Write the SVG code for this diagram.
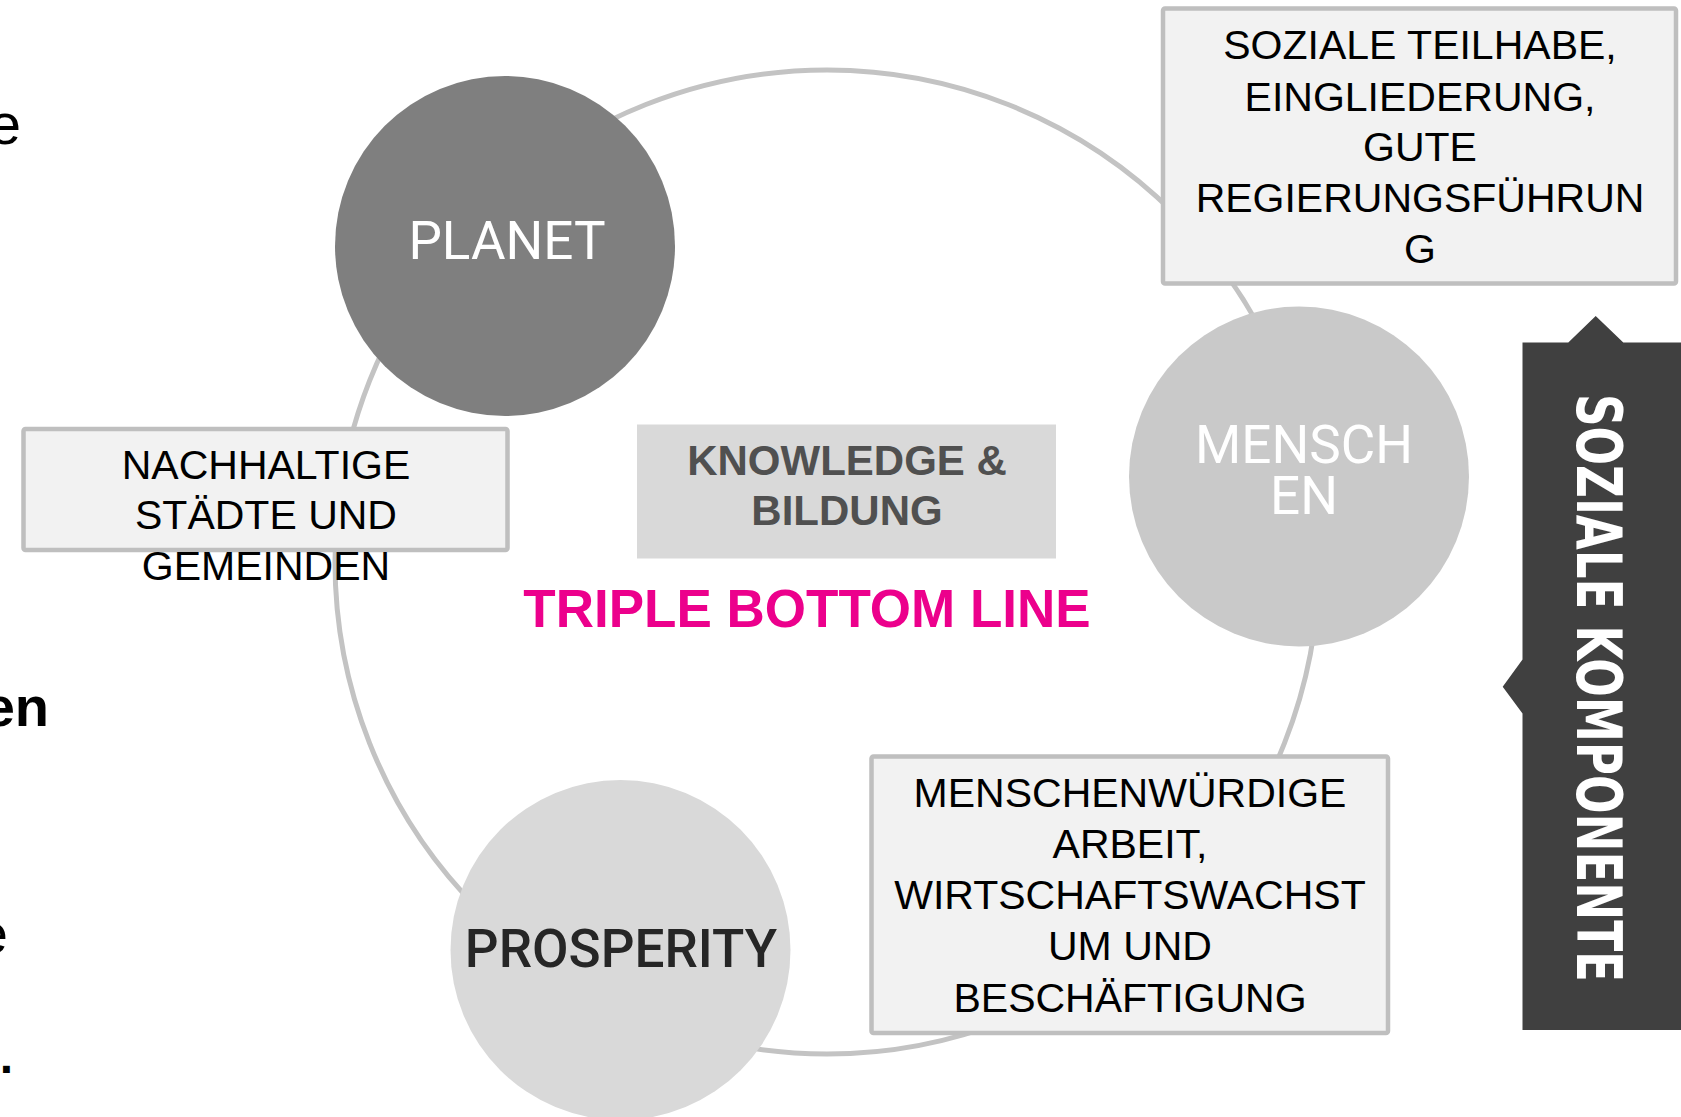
<svg xmlns="http://www.w3.org/2000/svg" width="1681" height="1117" viewBox="0 0 1681 1117">
  <style>
    .ring { fill: none; stroke: #c3c3c3; stroke-width: 5; }
    .box { fill: #f2f2f2; stroke: #bfbfbf; stroke-width: 4.5; }
    .boxtxt { font-family: "Liberation Sans", Arial, sans-serif; font-size: 41px; fill: #000000; text-anchor: middle; }
    .circtxt { font-family: Roboto, "Liberation Sans", sans-serif; font-size: 53px; text-anchor: middle; }
    .edge { font-family: "Liberation Sans", Arial, sans-serif; fill: #000000; text-anchor: end; }
  </style>
  <rect width="1681" height="1117" fill="#ffffff"/>

  <g id="edge-text">
    <text class="edge" x="21" y="144" font-size="58">e</text>
    <text class="edge" x="49" y="726" font-size="56" font-weight="bold">en</text>
    <text class="edge" x="8" y="953" font-size="56">e</text>
    <text class="edge" x="13" y="1073" font-size="48" font-weight="bold">.</text>
  </g>

  <g id="connectors">
    <circle class="ring" cx="827" cy="562" r="492"/>
  </g>

  <g id="planet">
    <circle cx="505" cy="246" r="170" fill="#7f7f7f"/>
    <text class="circtxt" x="507" y="259" fill="#ffffff">PLANET</text>
  </g>

  <g id="menschen">
    <circle cx="1299" cy="476.5" r="170" fill="#c9c9c9"/>
    <text class="circtxt" x="1304" y="462.5" fill="#ffffff">MENSCH</text>
    <text class="circtxt" x="1304" y="514" fill="#ffffff">EN</text>
  </g>

  <g id="prosperity">
    <circle cx="620.5" cy="950" r="170" fill="#d9d9d9"/>
    <text class="circtxt" x="621" y="967" fill="#262626" font-weight="500">PROSPERITY</text>
  </g>

  <g id="nachhaltige">
    <rect class="box" x="23.5" y="429" width="484" height="121" rx="2"/>
    <text class="boxtxt" x="266" y="478.5">NACHHALTIGE</text>
    <text class="boxtxt" x="266" y="529">STÄDTE UND</text>
    <text class="boxtxt" x="266" y="580">GEMEINDEN</text>
  </g>

  <g id="soziale-teilhabe">
    <rect class="box" x="1163" y="8.5" width="513" height="275" rx="2"/>
    <text class="boxtxt" x="1420" y="59">SOZIALE TEILHABE,</text>
    <text class="boxtxt" x="1420" y="110.5">EINGLIEDERUNG,</text>
    <text class="boxtxt" x="1420" y="161">GUTE</text>
    <text class="boxtxt" x="1420" y="212">REGIERUNGSFÜHRUN</text>
    <text class="boxtxt" x="1420" y="262.5">G</text>
  </g>

  <g id="menschenwuerdige">
    <rect class="box" x="871.5" y="756.5" width="516.5" height="276.5" rx="2"/>
    <text class="boxtxt" x="1130" y="807">MENSCHENWÜRDIGE</text>
    <text class="boxtxt" x="1130" y="858">ARBEIT,</text>
    <text class="boxtxt" x="1130" y="909">WIRTSCHAFTSWACHST</text>
    <text class="boxtxt" x="1130" y="960">UM UND</text>
    <text class="boxtxt" x="1130" y="1011.5">BESCHÄFTIGUNG</text>
  </g>

  <g id="knowledge">
    <rect x="637" y="424.5" width="419" height="134" fill="#d9d9d9"/>
    <text x="847" y="475" font-family="'Liberation Sans', Arial, sans-serif" font-size="42" font-weight="bold" fill="#505050" text-anchor="middle">KNOWLEDGE &amp;</text>
    <text x="847" y="525" font-family="'Liberation Sans', Arial, sans-serif" font-size="42" font-weight="bold" fill="#505050" text-anchor="middle">BILDUNG</text>
  </g>

  <g id="title">
    <text x="807" y="627" font-family="'Liberation Sans', Arial, sans-serif" font-size="53" font-weight="bold" fill="#ec008c" text-anchor="middle">TRIPLE BOTTOM LINE</text>
  </g>

  <g id="soziale-komponente">
    <path d="M1522.5 342.5 H1568.3 L1595.7 316 L1623.3 342.5 H1681 V1030 H1522.5 V713.5 L1502.7 686.7 L1522.5 659.5 Z" fill="#404040"/>
    <text transform="translate(1577,394) rotate(90)" x="0" y="0" font-family="'DejaVu Sans', 'Liberation Sans', sans-serif" font-size="63" font-weight="bold" fill="#ffffff" textLength="588" lengthAdjust="spacingAndGlyphs">SOZIALE KOMPONENTE</text>
  </g>
</svg>
